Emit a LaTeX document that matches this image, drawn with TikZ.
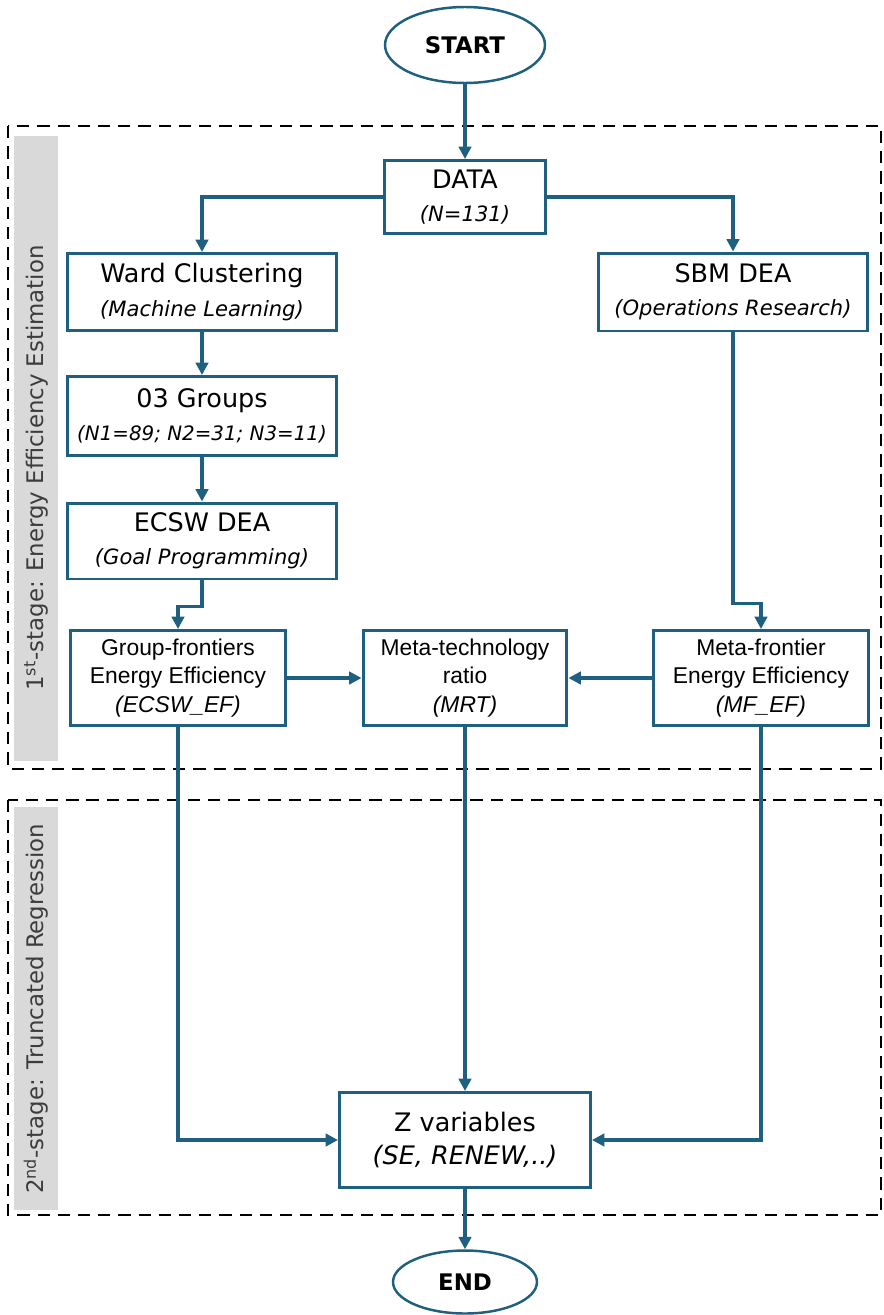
\documentclass[tikz,border=0pt]{standalone}
\usepackage{fontspec}
\setmainfont{DejaVu Sans}
\newfontfamily\narrowfont{Liberation Sans}
\usetikzlibrary{arrows.meta,shapes.geometric}
\definecolor{flowblue}{RGB}{31,96,128}
\definecolor{bandgray}{RGB}{217,217,217}
\definecolor{labelgray}{RGB}{60,60,60}
\newcommand{\subline}[1]{{\fontsize{12}{19}\selectfont\itshape #1}}

\tikzset{
  term/.style={draw=flowblue,line width=1.4pt,ellipse,fill=white,font=\fontsize{13}{16}\selectfont\bfseries},
  proc/.style={draw=flowblue,line width=1.7pt,rectangle,align=center,fill=white,inner xsep=1pt,font=\fontsize{14.5}{19}\selectfont},
  eff/.style={proc,font=\narrowfont\fontsize{13}{16.2}\selectfont},
  flow/.style={draw=flowblue,line width=2.1pt,-{Triangle[length=7pt,width=7pt]}},
  stage/.style={draw=black,line width=1.4pt,dash pattern=on 7pt off 4.5pt},
  band/.style={fill=bandgray,draw=none},
  stagelabel/.style={rotate=90,text=labelgray,font=\fontsize{13}{15}\selectfont},
}

\begin{document}
\begin{tikzpicture}[x=0.02cm,y=-0.02cm]
	\useasboundingbox (0,0) rectangle (883,1315);
	
	% the two stages
	\draw[stage] (8,126) rectangle (881,769);
	\draw[stage] (8,800) rectangle (881,1215);
	\fill[band] (14,136) rectangle (58,761);
	\fill[band] (14,807) rectangle (58,1210);
	\node[stagelabel] (lab1) at (36,468) {1\textsuperscript{st}-stage: Energy Efficiency Estimation};
	\node[stagelabel] (lab2) at (36,1009) {2\textsuperscript{nd}-stage: Truncated Regression};
	
	\node[term,minimum width=3.2cm,minimum height=1.52cm] (start) at (465,45) {START};
	\node[proc,minimum width=3.24cm,minimum height=1.46cm] (data) at (465,197) {DATA\\\subline{(N=131)}};
	\node[proc,minimum width=5.4cm,minimum height=1.54cm] (ward) at (202,292) {Ward Clustering\\\subline{(Machine Learning)}};
	\node[proc,minimum width=5.4cm,minimum height=1.56cm] (sbm) at (733,292) {SBM DEA\\\subline{(Operations Research)}};
	\node[proc,minimum width=5.4cm,minimum height=1.58cm] (groups) at (202,416) {03 Groups\\{\fontsize{11.3}{19}\selectfont\itshape (N1=89; N2=31; N3=11)}};
	\node[proc,minimum width=5.4cm,minimum height=1.52cm] (ecsw) at (202,541) {ECSW DEA\\\subline{(Goal Programming)}};
	\node[eff,minimum width=4.32cm,minimum height=1.9cm] (gfef) at (178,678) {Group-frontiers\\Energy Efficiency\\\textit{(ECSW\_EF)}};
	\node[eff,minimum width=4.08cm,minimum height=1.9cm] (mtr) at (465,678) {Meta-technology\\ratio\\\textit{(MRT)}};
	\node[eff,minimum width=4.32cm,minimum height=1.9cm] (mfef) at (761,678) {Meta-frontier\\Energy Efficiency\\\textit{(MF\_EF)}};
	\node[proc,minimum width=5.02cm,minimum height=1.9cm] (zvar) at (465,1140) {Z variables\\\textit{(SE, RENEW,..)}};
	\node[term,minimum width=2.88cm,minimum height=1.26cm] (end) at (465,1282) {END};
	
	\draw[flow] (start) -- (data);
	\draw[flow] (data.west) -| (ward.north);
	\draw[flow] (data.east) -| (sbm.north);
	\draw[flow] (ward) -- (groups);
	\draw[flow] (groups) -- (ecsw);
	\draw[flow] (ecsw.south) -- ++(0,26) -| (gfef.north);
	\draw[flow] (sbm.south) -- ++(0,271) -| (mfef.north);
	\draw[flow] (gfef) -- (mtr);
	\draw[flow] (mfef) -- (mtr);
	\draw[flow] (gfef.south) |- (zvar.west);
	\draw[flow] (mtr) -- (zvar);
	\draw[flow] (mfef.south) |- (zvar.east);
	\draw[flow] (zvar) -- (end);
\end{tikzpicture}
\end{document}
